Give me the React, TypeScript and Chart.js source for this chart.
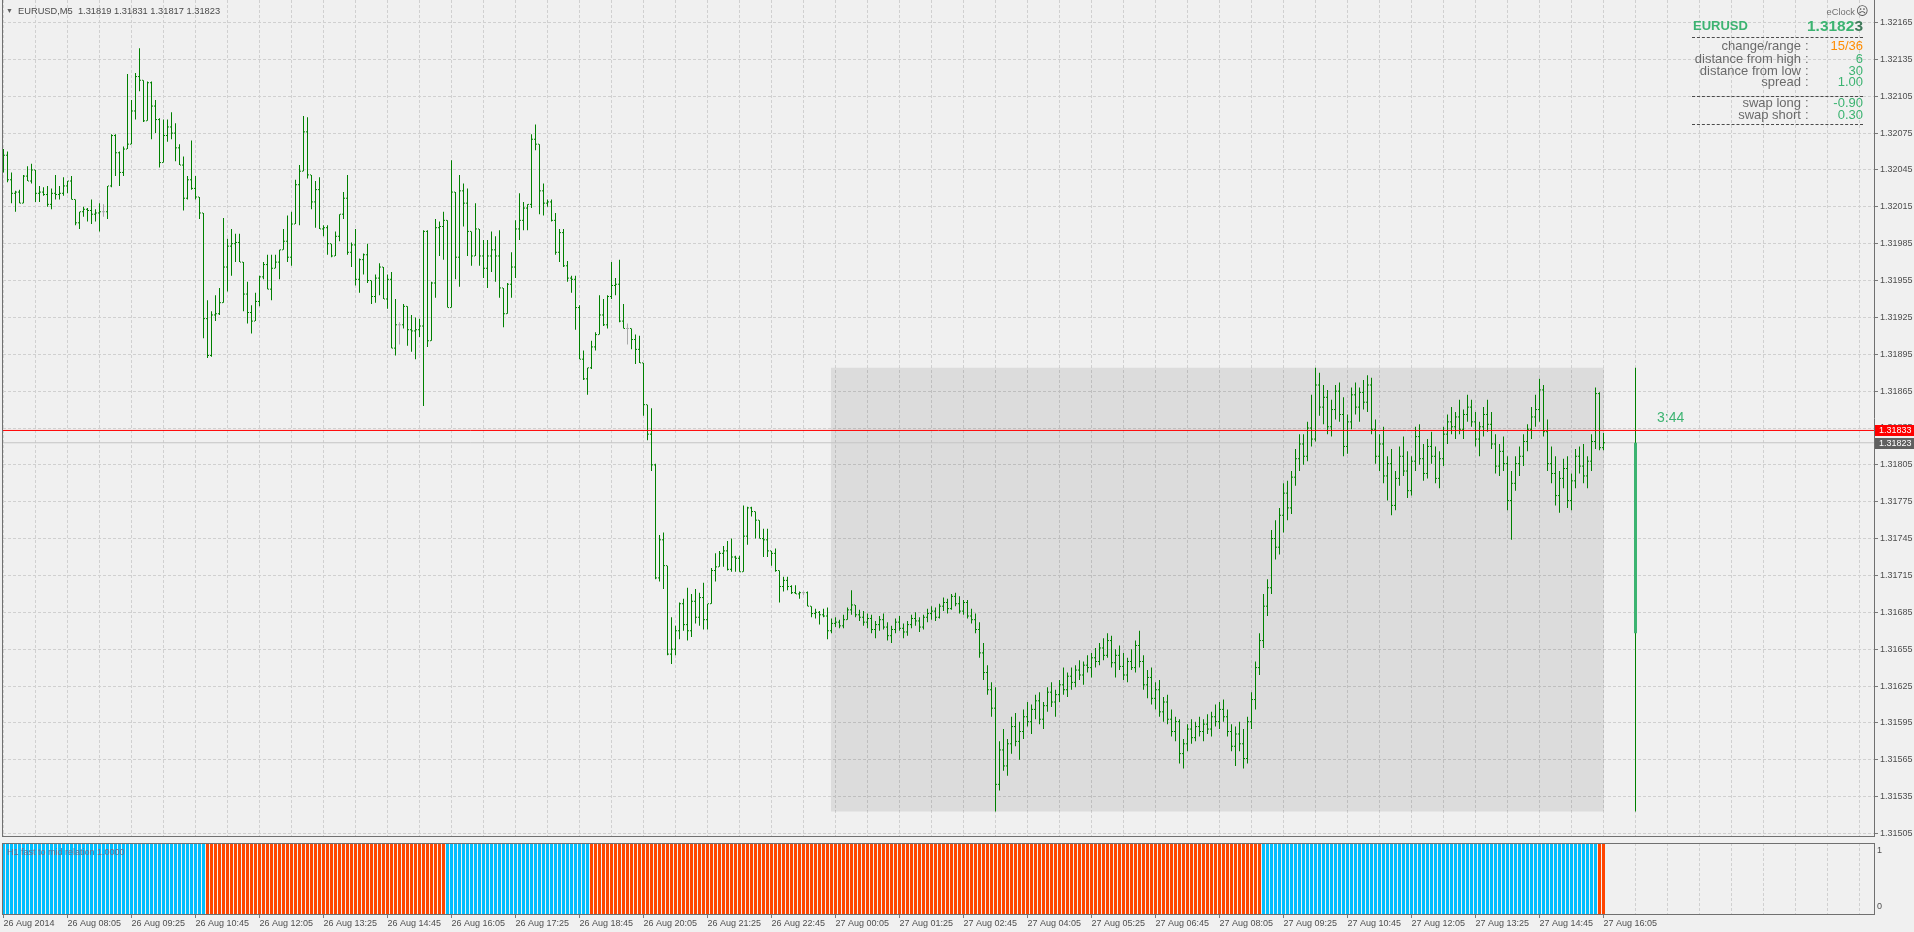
import React, { useEffect, useRef } from 'react';
import { Chart, registerables } from 'chart.js';

Chart.register(...registerables);

// ---------- data (prices in points = 1e-5 above PRICE_BASE) ----------
const PRICE_BASE = 1.31;
const SYMBOL = 'EURUSD';
const TIMEFRAME = 'M5';

const opens = [
  1059,1057,1037,1026,1027,1018,1040,1036,1045,1026,1027,1025,1017,1026,1025,1026,1032,1036,1021,1002,
  1011,1013,1012,1009,1010,1011,1011,1032,1073,1059,1043,1062,1066,1093,1121,1118,1085,1116,1097,1086,
  1051,1073,1080,1075,1063,1049,1022,1037,1030,1023,1010,924,894,927,928,937,966,983,985,986,
  970,944,929,922,938,958,968,948,965,970,980,987,974,1001,1033,1044,1076,1041,1019,1029,
  997,998,985,975,991,1009,1022,978,984,956,972,976,955,942,957,966,940,956,900,919,
  919,934,915,914,915,918,995,906,953,998,999,1004,933,1027,974,1028,1018,995,975,997,
  975,965,975,980,975,949,928,952,966,997,1004,1014,1017,1070,1066,1028,1018,1019,1004,978,
  994,967,957,956,933,891,875,884,901,911,927,919,942,951,952,922,916,916,907,899,
  888,854,830,805,713,744,723,651,655,670,692,675,670,694,681,697,679,692,719,722,
  733,735,720,730,729,718,747,770,767,760,745,744,735,733,719,706,711,706,701,700,
  701,701,690,684,685,683,682,670,676,677,674,679,687,691,683,681,677,680,671,675,
  679,673,666,671,677,672,669,675,680,678,673,681,684,686,681,690,693,688,698,692,
  686,693,682,679,671,652,636,622,607,545,573,560,578,592,580,588,600,596,606,613,
  598,609,620,612,618,626,622,633,628,638,634,642,640,648,645,656,650,662,644,650,
  641,634,645,640,658,645,626,632,615,622,604,612,598,588,596,570,578,590,583,592,
  588,594,590,600,596,606,600,588,576,586,578,566,596,614,640,662,690,705,745,738,
  764,782,770,795,810,822,812,835,826,870,852,860,836,850,865,846,820,840,862,852,
  864,856,870,834,812,822,796,806,772,794,812,800,784,808,828,810,798,820,812,794,
  810,830,840,836,844,834,846,852,840,826,836,846,838,822,804,816,806,776,790,806,
  812,824,834,844,850,866,832,806,798,780,794,802,776,792,812,804,796,808,824,863,
  819,
];

const highs = [
  1062,1060,1043,1028,1029,1041,1048,1050,1045,1032,1031,1032,1030,1041,1032,1039,1036,1040,1021,1011,
  1015,1014,1021,1013,1018,1017,1032,1074,1074,1060,1064,1123,1102,1124,1144,1118,1117,1117,1102,1087,
  1086,1086,1092,1083,1066,1056,1040,1069,1040,1023,1010,939,930,943,949,1006,989,997,993,993,
  970,954,935,945,959,970,976,976,976,980,997,1008,1011,1037,1049,1089,1088,1041,1036,1039,
  1000,1000,985,995,1009,1027,1041,986,997,973,977,985,955,960,969,966,960,962,940,921,
  936,934,927,925,924,996,996,954,1005,1003,1011,1004,1053,1027,1041,1034,1030,995,1018,997,
  988,988,995,991,996,949,953,978,1004,1026,1019,1017,1074,1082,1066,1034,1021,1021,1010,997,
  997,971,959,959,935,898,884,906,913,943,940,943,970,957,972,936,920,916,911,910,
  888,854,851,806,748,750,723,681,674,693,696,705,700,704,701,709,692,721,733,735,
  739,743,745,731,731,772,771,771,767,760,753,753,735,737,719,714,714,707,707,702,
  702,702,690,688,686,688,689,680,681,679,683,689,703,691,687,686,684,683,678,682,
  684,677,674,680,682,676,678,683,685,681,683,688,690,689,692,697,696,700,701,698,
  695,695,688,684,677,660,642,628,624,580,590,582,600,603,596,606,612,610,618,620,
  612,624,628,622,630,640,636,640,642,646,645,650,652,656,660,664,668,666,655,658,
  652,648,655,662,670,650,638,640,628,630,616,618,606,600,598,582,594,598,596,600,
  598,602,604,610,612,614,606,594,592,596,590,600,620,645,668,700,712,752,760,770,
  790,792,800,818,830,830,840,862,884,880,870,866,858,870,872,860,846,868,872,868,
  874,878,876,842,830,836,812,818,800,820,828,816,812,836,838,822,826,832,820,816,
  836,846,852,848,858,850,862,858,848,840,852,858,848,830,822,828,812,800,812,820,
  830,838,852,862,875,870,842,820,812,800,810,812,798,818,820,822,812,830,868,864,
  831,
];

const lows = [
  1043,1035,1018,1011,1018,1018,1036,1034,1019,1019,1024,1015,1013,1021,1021,1024,1026,1021,1000,997,
  1007,1003,1001,1003,995,1007,1005,1031,1040,1032,1040,1062,1066,1086,1109,1084,1085,1070,1075,1047,
  1051,1068,1070,1052,1049,1012,1021,1029,1021,1005,908,892,893,922,927,937,946,959,970,970,
  930,920,912,922,934,956,948,939,965,956,980,970,967,1001,1000,1044,1038,1013,998,997,
  991,976,974,975,987,1005,976,966,951,945,960,953,936,937,943,940,932,900,894,903,
  916,902,897,891,909,853,901,906,941,975,972,933,933,956,950,999,975,967,975,967,
  957,949,962,954,941,917,928,941,957,988,996,996,1014,1061,1009,1008,1015,1003,976,970,
  966,954,945,915,891,874,862,883,898,911,918,916,940,943,921,916,903,899,887,888,
  845,825,800,712,710,704,650,643,650,663,670,662,665,676,674,671,671,692,710,722,
  722,719,718,718,718,718,740,763,745,745,730,730,723,718,693,702,703,700,700,696,
  699,690,681,680,675,681,663,668,673,672,672,679,683,681,678,674,672,668,664,670,
  671,662,660,668,670,664,666,672,674,669,671,677,679,678,680,686,684,687,690,684,
  683,680,676,668,648,630,618,600,523,540,556,552,570,576,565,582,592,586,598,594,
  590,604,608,600,612,618,616,622,624,630,626,636,632,640,642,646,648,640,632,638,
  630,628,638,636,640,622,615,610,606,600,596,594,584,580,562,558,572,578,580,584,
  580,586,584,592,590,596,584,572,560,572,558,562,590,606,634,656,682,700,728,732,
  750,760,765,788,800,805,808,820,824,845,838,830,828,842,840,812,814,834,846,840,
  850,848,830,806,800,790,776,764,768,788,796,778,780,800,805,792,794,806,790,786,
  804,822,830,826,830,826,840,836,820,812,828,832,818,798,796,800,768,744,784,796,
  804,816,826,836,840,828,800,790,772,766,786,770,768,786,798,790,786,800,818,817,
  817,
];

const closes = [
  1057,1037,1026,1027,1018,1040,1036,1045,1026,1027,1025,1017,1026,1025,1026,1032,1036,1021,1002,1011,
  1013,1012,1009,1010,1011,1011,1032,1073,1059,1043,1062,1066,1093,1121,1118,1085,1116,1097,1086,1051,
  1073,1080,1075,1063,1049,1022,1037,1030,1023,1010,924,894,927,928,937,966,983,985,986,970,
  944,929,922,938,958,968,948,965,970,980,987,974,1001,1033,1044,1076,1041,1019,1029,997,
  998,985,975,991,1009,1022,978,984,956,972,976,955,942,957,966,940,956,900,919,919,
  934,915,914,915,918,995,906,953,998,999,1004,933,1027,974,1028,1018,995,975,997,975,
  965,975,980,975,949,928,952,966,997,1004,1014,1017,1070,1066,1028,1018,1019,1004,978,994,
  967,957,956,933,891,875,884,901,911,927,919,942,951,952,922,916,916,907,899,888,
  854,830,805,713,744,723,651,655,670,692,675,670,694,681,697,679,692,719,722,733,
  735,720,730,729,718,747,770,767,760,745,744,735,733,719,706,711,706,701,700,701,
  701,690,684,685,683,682,670,676,677,674,679,687,691,683,681,677,680,671,675,679,
  673,666,671,677,672,669,675,680,678,673,681,684,686,681,690,693,688,698,692,686,
  693,682,679,671,652,636,622,607,545,573,560,578,592,580,588,600,596,606,613,598,
  609,620,612,618,626,622,633,628,638,634,642,640,648,645,656,650,662,644,650,641,
  634,645,640,658,645,626,632,615,622,604,612,598,588,596,570,578,590,583,592,588,
  594,590,600,596,606,600,588,576,586,578,566,596,614,640,662,690,705,745,738,764,
  782,770,795,810,822,812,835,826,870,852,860,836,850,865,846,820,840,862,852,864,
  856,870,834,812,822,796,806,772,794,812,800,784,808,828,810,798,820,812,794,810,
  830,840,836,844,834,846,852,840,826,836,846,838,822,804,816,806,776,790,806,812,
  824,834,844,850,866,832,806,798,780,794,802,776,792,812,804,796,808,824,863,819,
  823,
];

const priceTicks = [
  1.31505, 1.31535, 1.31565, 1.31595, 1.31625, 1.31655, 1.31685, 1.31715, 1.31745, 1.31775,
  1.31805, 1.31835, 1.31865, 1.31895, 1.31925, 1.31955, 1.31985, 1.32015, 1.32045, 1.32075,
  1.32105, 1.32135, 1.32165,
];

const timeLabels = [
  '26 Aug 2014', '26 Aug 08:05', '26 Aug 09:25', '26 Aug 10:45', '26 Aug 12:05', '26 Aug 13:25',
  '26 Aug 14:45', '26 Aug 16:05', '26 Aug 17:25', '26 Aug 18:45', '26 Aug 20:05', '26 Aug 21:25',
  '26 Aug 22:45', '27 Aug 00:05', '27 Aug 01:25', '27 Aug 02:45', '27 Aug 04:05', '27 Aug 05:25',
  '27 Aug 06:45', '27 Aug 08:05', '27 Aug 09:25', '27 Aug 10:45', '27 Aug 12:05', '27 Aug 13:25',
  '27 Aug 14:45', '27 Aug 16:05',
];

// H1 fast-to-mid relation: run lengths of the indicator state, bar by bar
const relationRuns = [
  { bars: 51, trend: 'up' },
  { bars: 60, trend: 'down' },
  { bars: 36, trend: 'up' },
  { bars: 168, trend: 'down' },
  { bars: 84, trend: 'up' },
  { bars: 2, trend: 'down' },
];
const RELATION_VALUE = 1.0;

const BID = 1.31823;
const ASK = 1.31833;
const DAY_OPEN = 1.31668;
const DAY_HIGH = 1.31884;
const DAY_LOW = 1.31523;
const DAY_START_BAR = 207;
const DAY_BAR_SLOT = 408;
const BAR_TIMER = '3:44';

const clockStats = [
  { label: 'change/range', value: '15/36', tone: 'warn' },
  { label: 'distance from high', value: '6', tone: 'ok' },
  { label: 'distance from low', value: '30', tone: 'ok' },
  { label: 'spread', value: '1.00', tone: 'ok' },
  { label: 'swap long', value: '-0.90', tone: 'ok' },
  { label: 'swap short', value: '0.30', tone: 'ok' },
];

// ---------- styling ----------
const FONT = '"Liberation Sans", Arial, sans-serif';
const BG = '#f0f0f0';
const GRID = '#d0d0d0';
const FRAME = '#707070';
const TEXT = '#4e4e4e';
const BAR_GREEN = '#008000';
const DOJI = '#a9a9a9';
const SEA = '#3cb371';
const ORANGE = '#ff8c00';
const UP_BLUE = '#00bfff';
const DOWN_RED = '#ff4500';

const X_MIN = -0.125;
const X_MAX = 467.625;
const Y_MIN = 1.3150297;
const Y_MAX = 1.3218332;

const toPrice = (p: number) => PRICE_BASE + p / 100000;

const gridEvery8 = (scale: any) => {
  const t: any[] = [];
  for (let v = 0; v <= X_MAX; v += 8) t.push({ value: v });
  scale.ticks = t;
};

const priceTagPlugin = {
  id: 'priceTags',
  afterDraw(chart: any) {
    const { ctx, chartArea, scales } = chart;
    const y = scales.y;
    const tags = [
      { value: ASK, bg: '#ff0000' },
      { value: BID, bg: '#606060' },
    ];
    ctx.save();
    ctx.font = `9px ${FONT}`;
    ctx.textBaseline = 'middle';
    ctx.textAlign = 'left';
    for (const t of tags) {
      const py = Math.round(y.getPixelForValue(t.value));
      ctx.fillStyle = t.bg;
      ctx.fillRect(chartArea.right + 1, py - 5, 39, 11);
      ctx.fillStyle = '#ffffff';
      ctx.fillText(t.value.toFixed(5), chartArea.right + 5, py + 0.5);
    }
    ctx.restore();
  },
};

function mainConfig(): any {
  const n = opens.length;
  const idx = Array.from({ length: n }, (_, i) => i);
  const colorOf = (i: number) => (opens[i] === closes[i] ? DOJI : BAR_GREEN);
  const colors = idx.map(colorOf);
  return {
    type: 'line',
    data: {
      datasets: [
        {
          type: 'line',
          label: 'today range',
          data: [
            { x: DAY_START_BAR - 0.125, y: DAY_HIGH },
            { x: n - 1 + 0.125, y: DAY_HIGH },
          ],
          fill: { value: DAY_LOW },
          backgroundColor: 'rgba(0,0,0,0.083)',
          borderWidth: 0,
          pointRadius: 0,
          order: 10,
        },
        {
          type: 'bar',
          label: 'high-low',
          data: idx.map((i) => ({ x: i, y: [toPrice(lows[i]), toPrice(highs[i])] })),
          backgroundColor: colors,
          barThickness: 1,
          grouped: false,
          inflateAmount: 0,
          borderWidth: 0,
          order: 3,
        },
        {
          type: 'line',
          label: 'open',
          showLine: false,
          data: idx.map((i) => ({ x: i - 0.25, y: toPrice(opens[i]) })),
          pointStyle: 'line',
          pointRadius: 0.5,
          pointBorderWidth: 1,
          pointBorderColor: colors,
          pointBackgroundColor: colors,
          order: 2,
        },
        {
          type: 'line',
          label: 'close',
          showLine: false,
          data: idx.map((i) => ({ x: i + 0.25, y: toPrice(closes[i]) })),
          pointStyle: 'line',
          pointRadius: 0.5,
          pointBorderWidth: 1,
          pointBorderColor: colors,
          pointBackgroundColor: colors,
          order: 2,
        },
        {
          type: 'bar',
          label: 'day range',
          data: [{ x: DAY_BAR_SLOT, y: [DAY_LOW, DAY_HIGH] }],
          backgroundColor: BAR_GREEN,
          barThickness: 1,
          grouped: false,
          inflateAmount: 0,
          order: 4,
        },
        {
          type: 'bar',
          label: 'day body',
          data: [{ x: DAY_BAR_SLOT, y: [DAY_OPEN, BID] }],
          backgroundColor: SEA,
          barThickness: 3,
          grouped: false,
          inflateAmount: 0,
          order: 3,
        },
        {
          type: 'line',
          label: 'bid',
          data: [{ x: X_MIN, y: BID }, { x: X_MAX, y: BID }],
          borderColor: '#c4c4c4',
          borderWidth: 1,
          pointRadius: 0,
          order: 6,
        },
        {
          type: 'line',
          label: 'ask',
          data: [{ x: X_MIN, y: ASK }, { x: X_MAX, y: ASK }],
          borderColor: '#ff0000',
          borderWidth: 1,
          pointRadius: 0,
          order: 0,
        },
      ],
    },
    options: {
      responsive: false,
      animation: false,
      events: [],
      layout: { autoPadding: false, padding: { left: 3, top: 0, right: 0, bottom: 4 } },
      plugins: { legend: { display: false }, tooltip: { enabled: false }, title: { display: false } },
      scales: {
        x: {
          type: 'linear',
          position: 'bottom',
          min: X_MIN,
          max: X_MAX,
          offset: false,
          afterBuildTicks: gridEvery8,
          afterFit: (s: any) => { s.height = 0; s.paddingLeft = 0; s.paddingRight = 0; },
          ticks: { display: false },
          grid: { color: GRID, lineWidth: 1, drawTicks: false, offset: false },
          border: { display: true, color: FRAME, width: 1, dash: [3, 2] },
        },
        y: {
          type: 'linear',
          position: 'right',
          min: Y_MIN,
          max: Y_MAX,
          afterBuildTicks: (s: any) => { s.ticks = priceTicks.map((v) => ({ value: v })); },
          afterFit: (s: any) => { s.width = 40; s.paddingTop = 0; s.paddingBottom = 0; },
          ticks: {
            autoSkip: false,
            padding: 2,
            color: TEXT,
            font: { family: FONT, size: 9 },
            callback: (v: any) => Number(v).toFixed(5),
          },
          grid: { color: GRID, lineWidth: 1, drawTicks: true, tickLength: 4, tickColor: '#7a7a7a', tickBorderDash: [] },
          border: { display: true, color: FRAME, width: 1, dash: [3, 2] },
        },
      },
    },
    plugins: [priceTagPlugin],
  };
}

function indicatorConfig(): any {
  const states: string[] = [];
  relationRuns.forEach((r) => { for (let k = 0; k < r.bars; k++) states.push(r.trend); });
  return {
    type: 'bar',
    data: {
      datasets: [
        {
          type: 'bar',
          label: 'H1 fast to mid relation',
          data: states.map((_, i) => ({ x: i, y: RELATION_VALUE })),
          backgroundColor: states.map((s) => (s === 'up' ? UP_BLUE : DOWN_RED)),
          barThickness: 3,
          grouped: false,
          inflateAmount: 0,
          borderWidth: 0,
          xAxisID: 'x',
          yAxisID: 'y',
        },
      ],
    },
    options: {
      responsive: false,
      animation: false,
      events: [],
      layout: { autoPadding: false, padding: { left: 3, top: 3, right: 0, bottom: 0 } },
      plugins: { legend: { display: false }, tooltip: { enabled: false }, title: { display: false } },
      scales: {
        x: {
          type: 'linear',
          position: 'bottom',
          min: X_MIN,
          max: X_MAX,
          offset: false,
          afterBuildTicks: gridEvery8,
          afterFit: (s: any) => { s.height = 0; s.paddingLeft = 0; s.paddingRight = 0; },
          ticks: { display: false },
          grid: { color: GRID, drawTicks: false, offset: false },
          border: { display: false, dash: [3, 2] },
        },
        xl: {
          type: 'linear',
          position: 'bottom',
          min: X_MIN,
          max: X_MAX,
          offset: false,
          afterBuildTicks: (s: any) => { s.ticks = timeLabels.map((_, k) => ({ value: k * 16 })); },
          afterFit: (s: any) => { s.height = 18; s.paddingLeft = 0; s.paddingRight = 0; },
          ticks: {
            autoSkip: false,
            maxRotation: 0,
            minRotation: 0,
            align: 'start',
            padding: 0,
            color: TEXT,
            font: { family: FONT, size: 9 },
            callback: (_v: any, i: number) => timeLabels[i],
          },
          grid: { drawOnChartArea: false, drawTicks: true, tickLength: 4, tickColor: '#7a7a7a', offset: false },
          border: { display: true, color: FRAME, width: 1 },
        },
        y: { type: 'linear', display: false, min: 0, max: 1 },
        yl: {
          type: 'linear',
          position: 'right',
          min: -0.125,
          max: 1.143,
          afterBuildTicks: (s: any) => { s.ticks = [{ value: 0 }, { value: 1 }]; },
          afterFit: (s: any) => { s.width = 40; s.paddingTop = 0; s.paddingBottom = 0; },
          ticks: { padding: 3, color: TEXT, font: { family: FONT, size: 9 }, callback: (v: any) => String(v) },
          grid: { drawOnChartArea: false, drawTicks: false },
          border: { display: true, color: FRAME, width: 1 },
        },
      },
    },
  };
}

const abs = (s: any) => ({ position: 'absolute' as const, whiteSpace: 'pre' as const, ...s });

export default function App() {
  const mainRef = useRef<HTMLCanvasElement>(null);
  const indRef = useRef<HTMLCanvasElement>(null);

  useEffect(() => {
    document.body.style.margin = '0';
    Chart.defaults.font.family = FONT;
    Chart.defaults.font.size = 9;
    const main = new Chart(mainRef.current as HTMLCanvasElement, mainConfig());
    const ind = new Chart(indRef.current as HTMLCanvasElement, indicatorConfig());
    return () => {
      main.destroy();
      ind.destroy();
    };
  }, []);

  const last = opens.length - 1;
  const title = `${SYMBOL},${TIMEFRAME}  ${toPrice(opens[last]).toFixed(5)} ${toPrice(highs[last]).toFixed(5)} ${toPrice(lows[last]).toFixed(5)} ${toPrice(closes[last]).toFixed(5)}`;
  const bidText = BID.toFixed(5);
  const rowCenters = [46, 58.5, 70.5, 82, 103, 115];

  return (
    <div style={{ position: 'fixed', left: 0, top: 0, width: 1914, height: 932, background: BG, overflow: 'hidden', fontFamily: FONT }}>
      <canvas ref={mainRef} width={1914} height={840} style={{ position: 'absolute', left: 0, top: 0, width: 1914, height: 840 }} />
      <canvas ref={indRef} width={1914} height={92} style={{ position: 'absolute', left: 0, top: 840, width: 1914, height: 92 }} />

      {/* frame pieces */}
      <div style={abs({ left: 2, top: 0, width: 1, height: 837, background: FRAME })} />
      <div style={abs({ left: 2, top: 843, width: 1873, height: 1, background: FRAME })} />
      <div style={abs({ left: 2, top: 843, width: 1, height: 72, background: FRAME })} />

      {/* chart title */}
      <div style={abs({ left: 6, top: 6, fontSize: 7, lineHeight: '10px', color: '#606060' })}>▼</div>
      <div style={abs({ left: 18, top: 5, fontSize: 9.3, lineHeight: '12px', color: '#4a4a4a' })}>{title}</div>

      {/* indicator legend */}
      <div style={abs({ left: 7, top: 846, fontSize: 9, lineHeight: '12px', color: '#6c6c8c' })}>H1 fast to mid relation {RELATION_VALUE.toFixed(4)}</div>

      {/* bar timer */}
      <div style={abs({ left: 1657, top: 409, fontSize: 14, lineHeight: '16px', color: SEA })}>{BAR_TIMER}</div>

      {/* eClock panel */}
      <div style={abs({ right: 59, top: 6, fontSize: 9.3, lineHeight: '12px', color: '#707070' })}>eClock</div>
      <div style={abs({ left: 1856, top: 5, fontSize: 12, lineHeight: '13px', color: '#505050', fontFamily: '"DejaVu Sans", sans-serif' })}>☹</div>
      <div style={abs({ left: 1693, top: 18, fontSize: 13, lineHeight: '16px', fontWeight: 700, color: SEA })}>{SYMBOL}</div>
      <div style={abs({ right: 51, top: 18, fontSize: 15.5, lineHeight: '16px', fontWeight: 700, color: SEA })}>
        {bidText.slice(0, -1)}<span style={{ color: '#3f7a5a' }}>{bidText.slice(-1)}</span>
      </div>
      {[37, 96, 124].map((y) => (
        <div key={y} style={abs({ left: 1692, top: y, width: 171, height: 0, borderTop: '1px dashed #4a4a4a' })} />
      ))}
      {clockStats.map((s, i) => (
        <React.Fragment key={s.label}>
          <div style={abs({ right: 113, top: rowCenters[i] - 7, fontSize: 13, lineHeight: '14px', color: '#6a6a6a', textAlign: 'right' })}>{s.label}</div>
          <div style={abs({ left: 1805, top: rowCenters[i] - 7, fontSize: 13, lineHeight: '14px', color: '#6a6a6a' })}>:</div>
          <div style={abs({ right: 51, top: rowCenters[i] - 7, fontSize: 13, lineHeight: '14px', color: s.tone === 'warn' ? ORANGE : SEA, textAlign: 'right' })}>{s.value}</div>
        </React.Fragment>
      ))}
    </div>
  );
}
